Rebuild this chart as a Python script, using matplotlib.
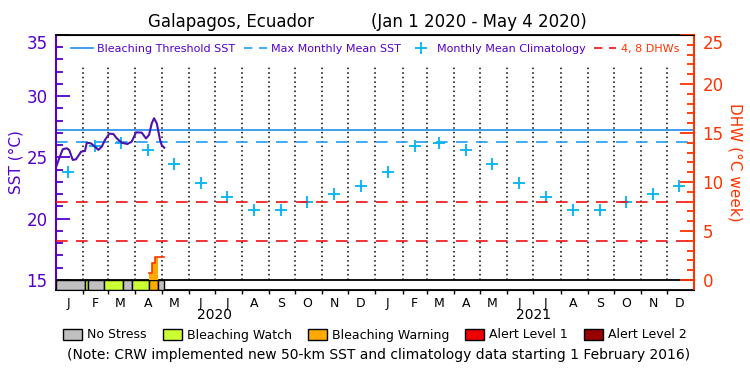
import numpy as np
import matplotlib
matplotlib.use('Agg')
from matplotlib import pyplot as plt
from matplotlib.lines import Line2D
from matplotlib.patches import Patch

# daily SST (days since 1 Jan 2020)
sst_days = [0, 4, 7.7, 12.3, 15.2, 19.1, 22.9, 27.5, 28.6, 33.2, 35.2, 39.8, 44.7, 48.5,
            52.4, 56.1, 61.1, 65.7, 69.5, 75.3, 81.7, 86.7, 91.7, 98.2, 103.1, 106.6,
            109.7, 112.3, 115.4, 119.2, 121.1, 124]
sst_vals = [24.2, 25.0, 25.67, 25.75, 25.6, 24.8, 24.85, 25.34, 25.47, 25.53, 26.2, 26.16,
            25.88, 25.62, 25.88, 26.43, 26.94, 26.92, 26.57, 26.2, 26.1, 26.29, 27.05, 27.03,
            26.55, 26.84, 27.79, 28.2, 27.79, 26.43, 26.0, 25.8]

# monthly mean climatology (Jan..Dec)
clim = [23.8, 25.9, 26.2, 25.6, 24.5, 22.9, 21.75, 20.75, 20.75, 21.35, 22.05, 22.65]
mmm = 26.27
threshold = 27.27

# degree heating weeks
dhw_days = [106.9, 110.3, 113.4, 117.2, 124]
dhw_vals = [0.74, 1.77, 2.38, 2.38, 2.38]
dhw_levels = [4, 8]

# stress level segments: 0 no stress, 1 watch, 2 warning, 3 alert 1, 4 alert 2
stress_start = [0, 33, 37, 55.4, 76.4, 86.7, 106.9, 117.2]
stress_end = [33, 37, 55.4, 76.4, 86.7, 106.9, 117.2, 124]
stress_level = [0, 1, 0, 1, 0, 1, 2, 0]

stress_names = ['No Stress', 'Bleaching Watch', 'Bleaching Warning', 'Alert Level 1', 'Alert Level 2']
stress_colors = ['#c0c0c0', '#ccff33', '#ffaa00', '#ee0000', '#990000']
month_letters = ['J', 'F', 'M', 'A', 'M', 'J', 'J', 'A', 'S', 'O', 'N', 'D']
years = [2020, 2021]

purple = '#5500cc'
orange_red = '#ff3300'

t0 = np.datetime64('2020-01-01')
months = np.arange(np.datetime64('2020-01'), np.datetime64('2022-02'), dtype='datetime64[M]')
month_edges = ((months.astype('datetime64[D]') - t0).astype(float))
mid_month = month_edges[:-1] + 14
x_end = month_edges[-1]

ybot = 14.18
fig = plt.figure(figsize=(7.5, 3.75), dpi=100)
ax = fig.add_axes([0.0747, 0.2267, 0.8507, 0.68])
ax.set_xlim(0, x_end)
ax.set_ylim(ybot, 35)

ax2 = ax.twinx()
ax2.set_ylim((ybot - 15) * 1.25, 25)

# month dividers
for e in month_edges[1:-1]:
    ax.plot([e, e], [15, 32.5], color='black', ls=(0, (1, 2)), lw=1.1, zorder=1)

ax.axhline(threshold, color='#1e8cf0', lw=1.2, zorder=2)
ax.axhline(mmm, color='#1ea0f0', lw=1.2, ls=(0, (7, 5)), zorder=2)
for lev in dhw_levels:
    ax2.axhline(lev, color='#f01010', lw=1.2, ls=(0, (7, 5)), zorder=2)

ax.plot(mid_month, clim * 2, ls='none', marker='+', ms=8, mew=1.3, color='#00b4f0', zorder=3)
ax.plot(sst_days, sst_vals, color='#5010b0', lw=1.5, zorder=4)

# DHW area and line
ax2.fill_between(dhw_days[:4], 0, dhw_vals[:4], step='post', color='#ffaa00', lw=0, zorder=2)
ax2.step(dhw_days, dhw_vals, where='post', color=orange_red, lw=1.2, zorder=3)

# stress bar
for s, e, lv in zip(stress_start, stress_end, stress_level):
    ax.bar(s, 15 - ybot, width=e - s, bottom=ybot, align='edge', color=stress_colors[lv],
           edgecolor='black', lw=1, zorder=3)
ax.axhline(15, color='black', lw=1.3, zorder=5)

# axes styling
ax.spines['left'].set_color(purple)
ax.spines['left'].set_linewidth(1.5)
ax.spines['right'].set_visible(False)
ax2.spines['right'].set_color(orange_red)
ax2.spines['right'].set_linewidth(1.5)
ax2.spines['left'].set_visible(False)
for sp in ['top', 'bottom']:
    ax.spines[sp].set_linewidth(1.3)

ax.set_yticks([15, 20, 25, 30, 35])
ax.set_yticks(np.arange(15, 35), minor=True)
ax.tick_params(axis='y', which='major', direction='in', length=10, width=1.3, color=purple,
               labelcolor=purple, labelsize=12, pad=6)
ax.tick_params(axis='y', which='minor', direction='in', length=5, width=1.3, color=purple)
ax2.set_yticks([0, 5, 10, 15, 20, 25])
ax2.set_yticks(np.arange(0, 25), minor=True)
ax2.tick_params(axis='y', which='major', direction='in', length=10, width=1.3, color=orange_red,
                labelcolor=orange_red, labelsize=12, pad=6)
ax2.tick_params(axis='y', which='minor', direction='in', length=5, width=1.3, color=orange_red)
ax.get_yticklabels()[-1].set_verticalalignment('top')
ax2.get_yticklabels()[-1].set_verticalalignment('top')

ax.set_xticks(month_edges[1:-1])
ax.set_xticklabels([])
ax.tick_params(axis='x', which='major', direction='out', length=3, width=1)
ax.set_xticks(mid_month, minor=True)
ax.set_xticklabels(month_letters * 2, minor=True)
ax.tick_params(axis='x', which='minor', length=0, labelsize=9, pad=5)

for i, yr in enumerate(years):
    ax.text(month_edges[12 * i + 6], -0.1, str(yr), transform=ax.get_xaxis_transform(),
            ha='center', va='center', fontsize=10)

ax.set_ylabel('SST (°C)', color=purple, fontsize=11, labelpad=2)
ax2.set_ylabel('DHW (°C week)', color=orange_red, fontsize=11, rotation=-90, labelpad=14)

# title
fig.text(231 / 750, 1 - 22 / 375, 'Galapagos, Ecuador', ha='center', va='center', fontsize=12)
fig.text(479 / 750, 1 - 22 / 375, '(Jan 1 2020 - May 4 2020)', ha='center', va='center', fontsize=12)

# top legend
handles = [Line2D([], [], color='#1e8cf0', lw=1.2),
           Line2D([], [], color='#1ea0f0', lw=1.2, ls=(0, (5, 4))),
           Line2D([], [], ls='none', marker='+', ms=8, mew=1.3, color='#00b4f0'),
           Line2D([], [], color='#f01010', lw=1.2, ls=(0, (5, 4)))]
labels = ['Bleaching Threshold SST', 'Max Monthly Mean SST', 'Monthly Mean Climatology', '4, 8 DHWs']
leg = ax.legend(handles, labels, loc='upper center', bbox_to_anchor=(0.5, 1.0), ncol=4,
                frameon=False, fontsize=8, handlelength=2.0, handletextpad=0.4,
                columnspacing=0.8, borderaxespad=0.4)
for t in leg.get_texts():
    t.set_color(purple)
leg.get_texts()[-1].set_color(orange_red)

# bottom legend
patches = [Patch(facecolor=c, edgecolor='black', lw=1) for c in stress_colors]
fig.legend(patches, stress_names, loc='center', bbox_to_anchor=(0.5, 1 - 335 / 375), ncol=5,
           frameon=False, fontsize=9, handlelength=1.5, handleheight=1.0, handletextpad=0.4,
           columnspacing=1.3)

fig.text(0.505, 1 - 355 / 375,
         '(Note: CRW implemented new 50-km SST and climatology data starting 1 February 2016)',
         ha='center', va='center', fontsize=10)

fig.savefig('out.png', dpi=100)
